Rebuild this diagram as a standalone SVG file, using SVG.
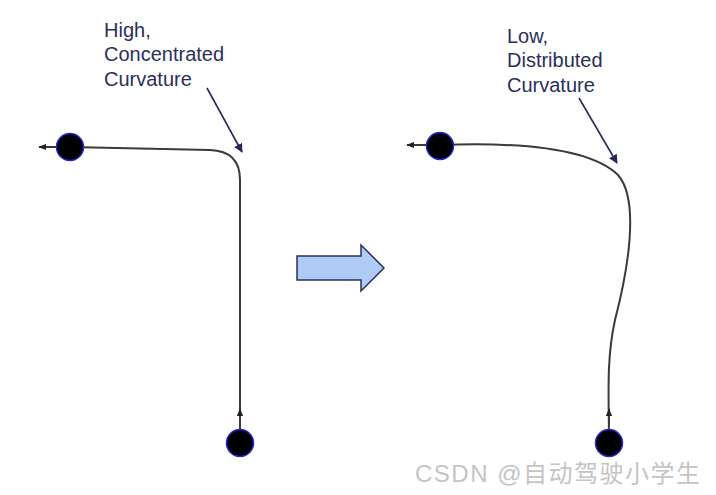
<svg xmlns="http://www.w3.org/2000/svg" width="716" height="495" viewBox="0 0 716 495">
<defs>
<style>
.lbl{font-family:"Liberation Sans",Arial,sans-serif;font-size:20px;fill:#2b2f5c}
.path{fill:none;stroke:#3a3a3a;stroke-width:2}
.node{fill:#000;stroke:#2424d8;stroke-width:1.5}
.ann{stroke:#262a5a;stroke-width:1.6;fill:none}
.wm{font-family:"Liberation Sans","Noto Sans CJK SC",sans-serif;font-size:24px;fill:#c4c4c4}
</style>
<marker id="ah" viewBox="0 0 10 10" refX="9" refY="5" markerWidth="9" markerHeight="9" markerUnits="userSpaceOnUse" orient="auto"><path d="M0,0 L10,5 L0,10 Z" fill="#262a5a"/></marker>
<marker id="sm" viewBox="0 0 10 10" refX="9" refY="5" markerWidth="8" markerHeight="8" markerUnits="userSpaceOnUse" orient="auto"><path d="M0,1 L10,5 L0,9 Z" fill="#222"/></marker>
</defs>
<rect width="716" height="495" fill="#fff"/>
<g id="connectors">
<path class="path" d="M70,147 L210,150 Q240,151 240,180 L240,432" />
<line class="path" x1="56" y1="147" x2="39" y2="147" marker-end="url(#sm)"/>
<line class="path" x1="240" y1="425" x2="240" y2="409" marker-end="url(#sm)"/>
<path class="path" d="M440,145 C520,142 590,148 618,175 C640,200 628,270 615,320 C606,360 609,400 609,440" />
<line class="path" x1="426" y1="145" x2="407" y2="145" marker-end="url(#sm)"/>
<line class="path" x1="609" y1="425" x2="609" y2="409" marker-end="url(#sm)"/>
<line class="ann" x1="207" y1="88" x2="242" y2="152" marker-end="url(#ah)"/>
<line class="ann" x1="579" y1="98" x2="617" y2="163" marker-end="url(#ah)"/>
</g>
<g id="node-left-start"><circle class="node" cx="70" cy="147" r="13.5"/></g>
<g id="node-left-end"><circle class="node" cx="240" cy="443" r="13.5"/></g>
<g id="node-right-start"><circle class="node" cx="440" cy="146" r="13.5"/></g>
<g id="node-right-end"><circle class="node" cx="609" cy="443" r="13.5"/></g>
<g id="label-high">
<text class="lbl" x="104" y="37">High,</text>
<text class="lbl" x="104" y="61">Concentrated</text>
<text class="lbl" x="104" y="86">Curvature</text>
</g>
<g id="label-low">
<text class="lbl" x="507" y="43">Low,</text>
<text class="lbl" x="507" y="67">Distributed</text>
<text class="lbl" x="507" y="92">Curvature</text>
</g>
<g id="block-arrow"><path d="M297,256 L361,256 L361,245 L384,268 L361,291 L361,280 L297,280 Z" fill="#aecbf7" stroke="#2b2f5c" stroke-width="1.5"/></g>
<text class="wm" x="415" y="482" textLength="285" lengthAdjust="spacing">CSDN @自动驾驶小学生</text>
</svg>
